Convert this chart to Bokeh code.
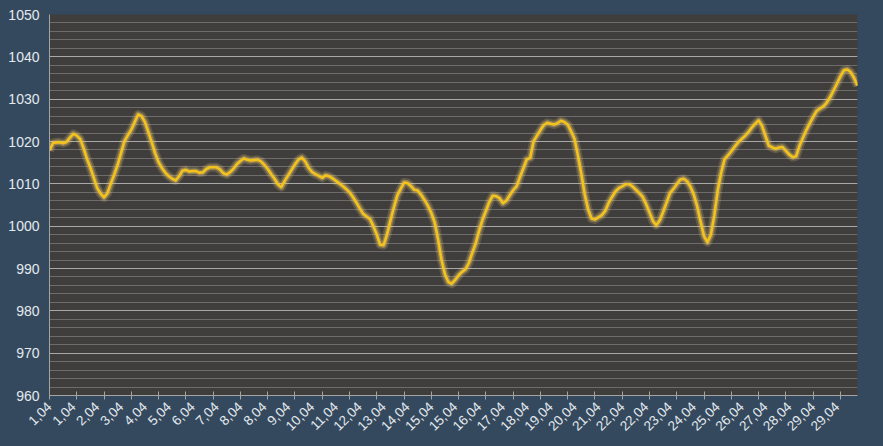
from math import pi
from bokeh.plotting import figure
from bokeh.models import FixedTicker, SingleIntervalTicker, Range1d, GlobalInlineStyleSheet
from bokeh.embed import file_html
from bokeh.resources import INLINE

# 3-hourly pressure readings (hPa), April
pressure = [
    1017.9, 1019.6, 1019.8, 1019.8, 1019.6, 1019.9, 1020.9, 1021.8, 1021.4, 1020.6,
    1018.4, 1015.9, 1013.8, 1011.4, 1009.0, 1007.7, 1006.8, 1007.8, 1010.1, 1012.2,
    1014.5, 1017.3, 1020.1, 1021.5, 1022.8, 1024.6, 1026.4, 1026.0, 1024.6, 1022.2,
    1019.8, 1017.2, 1015.1, 1013.7, 1012.6, 1011.8, 1011.2, 1010.8, 1011.8, 1013.1,
    1013.3, 1012.9, 1013.0, 1013.0, 1012.6, 1012.7, 1013.5, 1013.9, 1013.9, 1013.9,
    1013.4, 1012.5, 1012.2, 1012.8, 1013.6, 1014.7, 1015.4, 1016.0, 1015.7, 1015.5,
    1015.6, 1015.7, 1015.3, 1014.5, 1013.5, 1012.3, 1011.2, 1009.9, 1009.2, 1010.7,
    1012.0, 1013.3, 1014.6, 1015.7, 1016.2, 1015.3, 1013.8, 1012.8, 1012.3, 1011.9,
    1011.4, 1012.0, 1011.8, 1011.3, 1010.7, 1010.1, 1009.5, 1008.8, 1008.0, 1006.9,
    1005.6, 1004.2, 1002.9, 1002.3, 1001.7, 1000.0, 998.0, 995.6, 995.5, 998.0,
    1001.3, 1004.4, 1007.2, 1008.8, 1010.3, 1010.2, 1009.5, 1008.6, 1008.4, 1007.4,
    1006.2, 1004.8, 1003.1, 1000.8, 996.8, 992.0, 988.6, 986.8, 986.4, 987.3,
    988.4, 989.2, 989.8, 991.3, 993.7, 995.9, 998.9, 1001.5, 1003.6, 1005.7,
    1007.2, 1007.1, 1006.6, 1005.4, 1006.0, 1007.3, 1008.5, 1009.4, 1011.6, 1013.7,
    1015.8, 1016.1, 1020.1, 1021.4, 1022.7, 1023.9, 1024.4, 1024.2, 1024.0, 1024.3,
    1024.9, 1024.6, 1024.0, 1022.4, 1020.6, 1016.7, 1012.3, 1007.5, 1003.9, 1001.8,
    1001.6, 1002.1, 1002.6, 1003.6, 1005.5, 1006.9, 1008.2, 1009.0, 1009.4, 1009.9,
    1009.9, 1009.4, 1008.6, 1007.8, 1006.9, 1005.2, 1003.2, 1001.2, 1000.2, 1001.4,
    1003.4, 1005.6, 1007.8, 1008.8, 1009.9, 1011.0, 1011.2, 1010.6, 1009.3, 1007.4,
    1004.6, 1001.0, 997.6, 996.2, 998.0, 1002.6, 1008.4, 1012.6, 1015.8, 1016.7,
    1017.7, 1018.8, 1019.8, 1020.6, 1021.3, 1022.2, 1023.3, 1024.2, 1025.0, 1023.7,
    1021.3, 1019.0, 1018.6, 1018.3, 1018.6, 1018.7, 1017.8, 1016.9, 1016.3, 1016.5,
    1019.0, 1020.9, 1022.7, 1024.3, 1025.8, 1027.2, 1027.8, 1028.3, 1029.2, 1030.5,
    1032.1, 1033.7, 1035.4, 1036.8, 1037.0, 1036.4, 1035.0, 1033.2,
]

# category labels shown every 7th reading
day_labels = [
    "1,04", "1,04", "2,04", "3,04", "4,04", "5,04", "6,04", "7,04", "8,04", "8,04",
    "9,04", "10,04", "11,04", "12,04", "13,04", "14,04", "15,04", "15,04", "16,04", "17,04",
    "18,04", "19,04", "20,04", "21,04", "22,04", "22,04", "23,04", "24,04", "25,04", "26,04",
    "27,04", "28,04", "29,04", "29,04",
]
label_step = 7
tick_step = 8
y_min, y_max = 960, 1050

idx = list(range(len(pressure)))
label_pos = [i * label_step for i in range(len(day_labels))]
tick_pos = list(range(0, len(pressure), tick_step))

BG = "#34495e"
PLOT_BG = "#403e3c"
TXT = "#e4e9ef"
AXIS = "#a4a4a4"

p = figure(
    frame_width=808, frame_height=381,
    min_border_left=49, min_border_right=26, min_border_top=14, min_border_bottom=51,
    x_range=Range1d(0, len(pressure) - 1), y_range=Range1d(y_min, y_max),
    output_backend="svg", toolbar_location=None,
)
p.stylesheets = [GlobalInlineStyleSheet(css="html, body { background-color: #34495e; }")]
p.background_fill_color = PLOT_BG
p.border_fill_color = BG
p.outline_line_color = None

# glow + line
p.line(idx, pressure, line_width=9, line_color="#f3d27a", line_alpha=0.18, line_join="round")
p.line(idx, pressure, line_width=5.5, line_color="#f1cf6a", line_alpha=0.35, line_join="round")
p.line(idx, pressure, line_width=2.6, line_color="#f4c21c", line_join="round")

# x axis
xa = p.xaxis[0]
xa.ticker = FixedTicker(ticks=label_pos, minor_ticks=tick_pos)
xa.major_label_overrides = {pos: lab for pos, lab in zip(label_pos, day_labels)}
xa.major_label_orientation = pi / 4
xa.major_tick_in = 0
xa.major_tick_out = 0
xa.minor_tick_in = 4
xa.minor_tick_out = 4
xa.minor_tick_line_color = AXIS
xa.axis_line_color = AXIS
xa.major_label_text_color = TXT
xa.major_label_text_font = "Liberation Sans"
xa.major_label_text_font_size = "13.5px"
xa.major_label_standoff = 5
p.xgrid.visible = False

# y axis
ya = p.yaxis[0]
ya.ticker = SingleIntervalTicker(interval=10, num_minor_ticks=5)
ya.major_tick_in = 0
ya.major_tick_out = 0
ya.minor_tick_in = 0
ya.minor_tick_out = 0
ya.axis_line_color = AXIS
ya.major_label_text_color = TXT
ya.major_label_text_font = "Liberation Sans"
ya.major_label_text_font_size = "14px"
ya.major_label_standoff = 10
p.ygrid.grid_line_color = "#a8a8a8"
p.ygrid.grid_line_width = 1
p.ygrid.minor_grid_line_color = "#6e6c6a"
p.ygrid.minor_grid_line_width = 1

open("out.html", "w").write(file_html(p, INLINE))
